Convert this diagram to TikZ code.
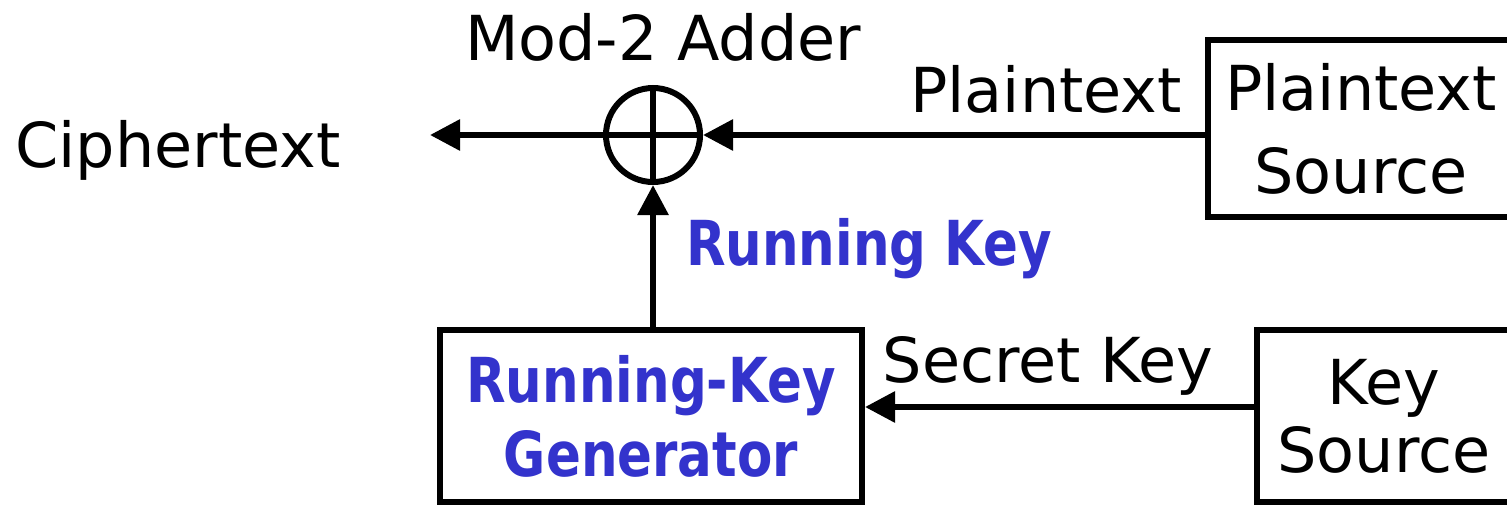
\documentclass[tikz,border=0pt]{standalone}
\usepackage{fontspec}
\setmainfont{DejaVu Sans}
\newfontfamily\rkfont{DejaVu Sans}[FakeStretch=0.83]
\usetikzlibrary{arrows.meta}
\definecolor{keyblue}{RGB}{51,51,204}
\tikzset{
  wire/.style={line width=6pt},
  flow/.style={wire, -{Triangle[length=30pt,width=30pt]}},
  blockbox/.style={draw, line width=6pt, rectangle, inner sep=0pt, align=center},
  label/.style={inner sep=0pt, font=\fontsize{62}{74}\selectfont},
  keytext/.style={text=keyblue, font=\rkfont\bfseries\fontsize{62}{74}\selectfont}
}
\begin{document}
\begin{tikzpicture}[x=1pt,y=-1pt]
  \useasboundingbox (0,0) rectangle (1507,506);
  \clip (0,0) rectangle (1507,506);

  % blocks
  \node[blockbox, minimum width=306pt, minimum height=177pt,
        font=\fontsize{62}{83}\selectfont] (ps) at (1361,128.5) {Plaintext\\Source};
  \node[blockbox, minimum width=254pt, minimum height=172pt,
        font=\fontsize{62}{68}\selectfont] (ks) at (1384,416) {Key\\Source};
  \node[blockbox, keytext, minimum width=422pt, minimum height=172pt,
        font=\rkfont\bfseries\fontsize{62}{74}\selectfont] (rk) at (651,416) {Running-Key\\Generator};

  % mod-2 adder
  \node[circle, draw, line width=6pt, minimum size=94pt, inner sep=0pt] (add) at (653,135) {};
  \draw[wire] (add.north) -- (add.south);
  \draw[wire] (add.west) -- (add.east);

  \coordinate (out) at (430,135);

  % connectors
  \draw[flow] (ps.west |- add) -- (add.east);
  \draw[flow] (add.west) -- (out);
  \draw[flow] (rk.north -| add) -- (add.south);
  \draw[flow] ([yshift=9pt]ks.west) -- ([yshift=9pt]rk.east);

  % labels
  \node[label, anchor=base west] (ct) at (15,167) {Ciphertext};
  \node[label, anchor=base] (madd) at (663,60) {Mod-2 Adder};
  \node[label, anchor=base] (ptl) at (1046,112) {Plaintext};
  \node[label, keytext, anchor=base] (rkl) at (869,265) {Running Key};
  \node[label, anchor=base] (skl) at (1048,382) {Secret Key};
\end{tikzpicture}
\end{document}
